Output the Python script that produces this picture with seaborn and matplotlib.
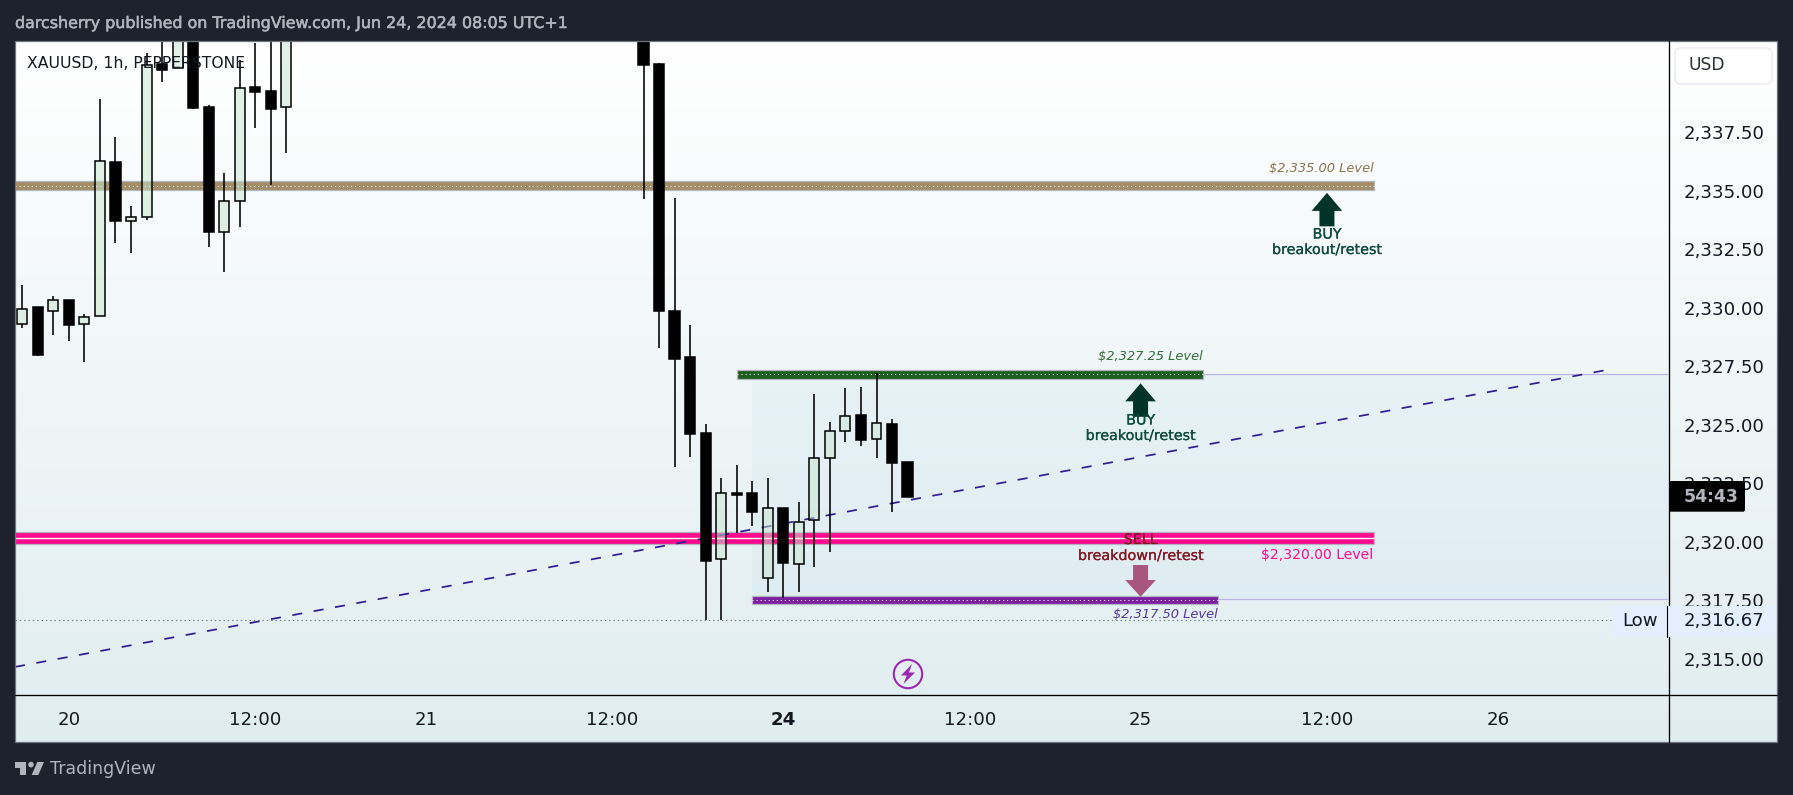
import numpy as np
import pandas as pd
import matplotlib
matplotlib.use("Agg")
import matplotlib.pyplot as plt
from matplotlib.patches import Polygon, Rectangle, FancyBboxPatch, Circle
import matplotlib.patheffects as pe
import seaborn as sns

# ---------- data ----------
bar_index = [0,1,2,3,4,5,6,7,8,9,10,11,12,13,14,15,16,17,
             40,41,42,43,44,45,46,47,48,49,50,51,52,53,54,55,56,57]
opens  = [2329.32,2330.03,2329.87,2330.33,2329.32,2329.66,2336.21,2333.69,2333.89,2340.41,2340.23,2343.00,2338.56,2333.22,2334.55,2339.42,2339.26,2338.56,
          2343.00,2340.41,2329.86,2327.89,2324.65,2319.25,2322.07,2322.07,2318.44,2321.43,2319.03,2320.91,2323.56,2324.72,2325.41,2324.38,2325.03,2323.41]
closes = [2329.93,2327.99,2330.32,2329.27,2329.59,2336.26,2333.72,2333.86,2340.38,2340.17,2343.00,2338.55,2333.25,2334.55,2339.38,2339.23,2338.50,2343.00,
          2340.38,2329.84,2327.83,2324.62,2319.19,2322.07,2322.00,2321.28,2321.43,2319.10,2320.83,2323.56,2324.72,2325.36,2324.36,2325.06,2323.38,2321.92]
highs  = [2330.97,2330.03,2330.50,2330.33,2329.73,2338.92,2337.29,2334.35,2340.87,2342.00,2343.50,2343.50,2338.65,2335.76,2340.59,2341.31,2342.50,2343.50,
          2343.50,2340.47,2334.69,2329.26,2325.03,2322.72,2323.28,2322.59,2322.72,2321.43,2321.70,2326.31,2325.12,2326.57,2326.61,2327.21,2325.24,2323.41]
lows   = [2329.15,2327.94,2328.83,2328.59,2327.69,2329.66,2332.78,2332.35,2333.76,2339.66,2340.23,2338.50,2332.61,2331.54,2333.46,2337.69,2335.24,2336.62,
          2334.65,2328.30,2323.20,2323.63,2316.67,2316.67,2320.38,2320.68,2317.86,2317.61,2317.86,2318.93,2319.57,2324.27,2324.10,2323.59,2321.28,2321.92]

price_ticks = [2315.0,2317.5,2320.0,2322.5,2325.0,2327.5,2330.0,2332.5,2335.0,2337.5]
time_ticks = [3,15,26,38,49,61,72,84,95]
time_labels = ["20","12:00","21","12:00","24","12:00","25","12:00","26"]

level_names = ["$2,335.00 Level","$2,327.25 Level","$2,320.00 Level","$2,317.50 Level"]
level_low   = [2335.02,2326.97,2319.91,2317.35]
level_high  = [2335.40,2327.34,2320.40,2317.69]
level_start = [-1,46,-1,47]
level_end   = [87,76,87,77]
level_fill  = ["#a28d68","#1b5e20","#ff0a8f","#7b1fa2"]
level_text  = ["#8b7350","#33703a","#ff0a8f","#56349f"]
level_label_y = [2335.97,2327.91,2319.43,2316.87]

trend_x = [-0.47,101.85]
trend_y = [2314.65,2327.32]
zone_start, zone_low, zone_high = 47, 2317.54, 2327.15
session_low = 2316.67

# ---------- figure ----------
sns.set_theme(style="white")
plt.rcParams["font.family"] = ["DejaVu Sans"]
W, H = 1793, 795
DARK = "#1e222d"
INK = "#131722"
fig = plt.figure(figsize=(W/100, H/100), dpi=100, facecolor=DARK)

def axes_px(x0, y0, x1, y1, **kw):
    return fig.add_axes([x0/W, 1-y1/H, (x1-x0)/W, (y1-y0)/H], **kw)

bg = axes_px(15, 41, 1777, 742, zorder=0)
grad = np.linspace(0, 1, 701)[:, None, None]
top_c = np.array([255, 255, 255])/255
bot_c = np.array([224, 237, 240])/255
bg.imshow(top_c*(1-grad)+bot_c*grad, aspect="auto", extent=[0, 1, 0, 1])
bg.axis("off")

ax = axes_px(15, 41, 1668, 695, zorder=1)
ax.patch.set_alpha(0)
XMIN, XMAX, YMIN, YMAX = -0.47, 105.96, 2313.45, 2341.40

# zone and thin border lines
ax.add_patch(Rectangle((zone_start, zone_low), XMAX-zone_start, zone_high-zone_low,
                       facecolor="#2196f3", alpha=0.04, edgecolor="none", zorder=1))
ax.hlines([zone_high], level_end[1], XMAX, color="#b9b5e6", lw=0.9, zorder=1.2)
ax.hlines([zone_low], level_end[3], XMAX, color="#b9b5e6", lw=0.9, zorder=1.2)

# levels
for lo, hi, s, e, c in zip(level_low, level_high, level_start, level_end, level_fill):
    ax.add_patch(Rectangle((s, lo), e-s, hi-lo, facecolor=c, edgecolor="#b2b5be", lw=0.9, zorder=1.5))
    mid = (lo+hi)/2
    if c == "#ff0a8f":
        ax.hlines([mid], s, e, color="white", lw=1.0, zorder=1.6)
    else:
        ax.hlines([mid], s, e, color="white", lw=0.75, linestyles=[(0, (1.0, 2.88))], zorder=1.6)

# session-low dotted line
ax.hlines([session_low], XMIN, 102.4, color="#787b86", lw=0.8, linestyles=[(0, (1.3, 2.6))], zorder=1.7)

# trend line
sns.lineplot(x=trend_x, y=trend_y, ax=ax, color="#311b92", linewidth=1.25, estimator=None, zorder=1.8)
ax.lines[-1].set_dashes((5.8, 6.7))

# candles
df = pd.DataFrame({"i": bar_index, "o": opens, "c": closes, "h": highs, "l": lows})
df["top"] = df[["o", "c"]].max(axis=1)
df["bot"] = df[["o", "c"]].min(axis=1)
df["body"] = df["top"]-df["bot"]
df["up"] = df["c"] >= df["o"]
up = df[df["up"]]
down = df[~df["up"]]
ax.vlines(df["i"], df["top"], df["h"], color="black", lw=1.15, zorder=2)
ax.vlines(df["i"], df["l"], df["bot"], color="black", lw=1.15, zorder=2)
sns.barplot(data=up, x="i", y="body", bottom=up["bot"].values, native_scale=True, width=0.64,
            ax=ax, errorbar=None, saturation=1, color=(0.79, 0.90, 0.81),
            facecolor=(0.79, 0.90, 0.81, 0.5), edgecolor="black", linewidth=1.1, zorder=3)
sns.barplot(data=down, x="i", y="body", bottom=down["bot"].values, native_scale=True, width=0.66,
            ax=ax, errorbar=None, saturation=1, color="black", edgecolor="black", linewidth=1.1, zorder=3)

ax.set_xlim(XMIN, XMAX)
ax.set_ylim(YMIN, YMAX)
ax.set_xlabel(""); ax.set_ylabel("")
for s in ax.spines.values():
    s.set_visible(False)
ax.yaxis.tick_right()
ax.set_yticks(price_ticks)
ax.set_yticklabels([f"{p:,.2f}" for p in price_ticks], fontsize=13.1, color=INK)
ax.set_xticks(time_ticks)
ax.set_xticklabels(time_labels, fontsize=13.1, color=INK)
ax.get_xticklabels()[4].set_fontweight("bold")
ax.tick_params(axis="y", length=0, pad=11.6, labelright=True, labelleft=False)
ax.tick_params(axis="x", length=0, pad=11.8, bottom=True, labelbottom=True)
ax.grid(False)

# level labels
for n, e, c, y in zip(level_names, level_end, level_text, level_label_y):
    ax.text(e, y, n, ha="right", va="center", fontsize=9.4 if c != "#ff0a8f" else 10.1,
            color=c, style="normal" if c == "#ff0a8f" else "italic", zorder=5)

# ---------- overlay in pixel space ----------
ov = axes_px(0, 0, W, H, zorder=5)
ov.set_xlim(0, W); ov.set_ylim(H, 0); ov.axis("off"); ov.patch.set_alpha(0)

def px(i):
    return ax.transData.transform((i, YMIN))[0]

def py(p):
    return H-ax.transData.transform((XMIN, p))[1]

def arrow(i, tip, direction, color, head=18, length=33.5):
    cx, ty = px(i), py(tip)
    d = direction
    ov.add_patch(Polygon([(cx, ty), (cx+15.3, ty+d*head), (cx+7.5, ty+d*head), (cx+7.5, ty+d*length),
                          (cx-7.5, ty+d*length), (cx-7.5, ty+d*head), (cx-15.3, ty+d*head)],
                         closed=True, facecolor=color, edgecolor="none"))

arrow(84, 2334.91, 1, "#00332a")
arrow(72, 2326.77, 1, "#00332a")
arrow(72, 2317.65, -1, "#a85680", head=16.7, length=31.7)

def buysell(i, y1, y2, t1, t2, c):
    for y, t in ((y1, t1), (y2, t2)):
        ov.text(px(i), y, t, ha="center", va="center", fontsize=10.3, color=c,
                path_effects=[pe.withStroke(linewidth=0.15, foreground=c)])

buysell(84, 234.5, 250, "BUY", "breakout/retest", "#0e4a3e")
buysell(72, 420.5, 436, "BUY", "breakout/retest", "#0e4a3e")
buysell(72, 540, 556, "SELL", "breakdown/retest", "#801922")

# frame and axis lines
ov.add_patch(Rectangle((15, 41), 1762, 701, fill=False, edgecolor="#70737e", lw=0.9))
ov.plot([1668.5, 1668.5], [41, 742], color="black", lw=0.95, zorder=2)
ov.plot([15, 1777], [695.3, 695.3], color="black", lw=0.95, zorder=2)

# texts
ov.text(15, 23.5, "darcsherry published on TradingView.com, Jun 24, 2024 08:05 UTC+1",
        fontsize=11.45, color="#b2b5be", va="center", ha="left",
        path_effects=[pe.withStroke(linewidth=0.35, foreground="#b2b5be")])
ov.text(27, 63.5, "XAUUSD, 1h, PEPPERSTONE", fontsize=11.25, color=INK, va="center", ha="left")

# USD box
ov.add_patch(FancyBboxPatch((1675, 48), 97, 36, boxstyle="round,pad=0,rounding_size=6",
                            facecolor="white", edgecolor="#e8eaf2", lw=1.0))
ov.text(1688, 65.5, "USD", fontsize=12.3, color="#2a2e39", va="center", ha="left")

# timer
ov.add_patch(FancyBboxPatch((1669, 481), 76, 30.7, boxstyle="round,pad=0,rounding_size=2",
                            facecolor="black", edgecolor="none", zorder=3))
ov.text(1684, 496.5, "54:43", fontsize=12.4, color="#b2b5be", va="center", ha="left", fontweight="bold", zorder=4)

# low label
ov.add_patch(Rectangle((1612, 606), 55, 31, facecolor="#e3effd", edgecolor="none", zorder=3))
ov.add_patch(Rectangle((1667.6, 606), 107.4, 31, facecolor="#e3effd", edgecolor="none", zorder=3))
ov.plot([1667.2, 1667.2], [606, 637], color="black", lw=0.8, zorder=4)
ov.text(1640, 620.5, "Low", fontsize=13.1, color=INK, va="center", ha="center", zorder=4)
ov.text(1684, 620.5, f"{session_low:,.2f}", fontsize=13.1, color=INK, va="center", ha="left", zorder=4)

# lightning icon
ov.add_patch(Circle((908, 674), 14.2, fill=False, edgecolor="#9c27b0", lw=1.5))
ov.add_patch(Polygon([(912, 664), (901, 675.5), (906.8, 675.5), (903.5, 684), (915, 672.5), (909, 672.5)],
                     closed=True, facecolor="#9c27b0", edgecolor="none"))

# footer logo
LOGO = "#b2b5be"
ov.add_patch(Polygon([(15, 762), (26, 762), (26, 775), (20, 775), (20, 768), (15, 768)], closed=True, facecolor=LOGO, edgecolor="none"))
ov.add_patch(Circle((31, 764.6), 2.8, facecolor=LOGO, edgecolor="none"))
ov.add_patch(Polygon([(37.3, 762), (44, 762), (38.3, 775), (31.7, 775)], closed=True, facecolor=LOGO, edgecolor="none"))
ov.text(50, 769, "TradingView", fontsize=12.5, color=LOGO, va="center", ha="left")

fig.savefig("out.png", dpi=100, facecolor=DARK)
